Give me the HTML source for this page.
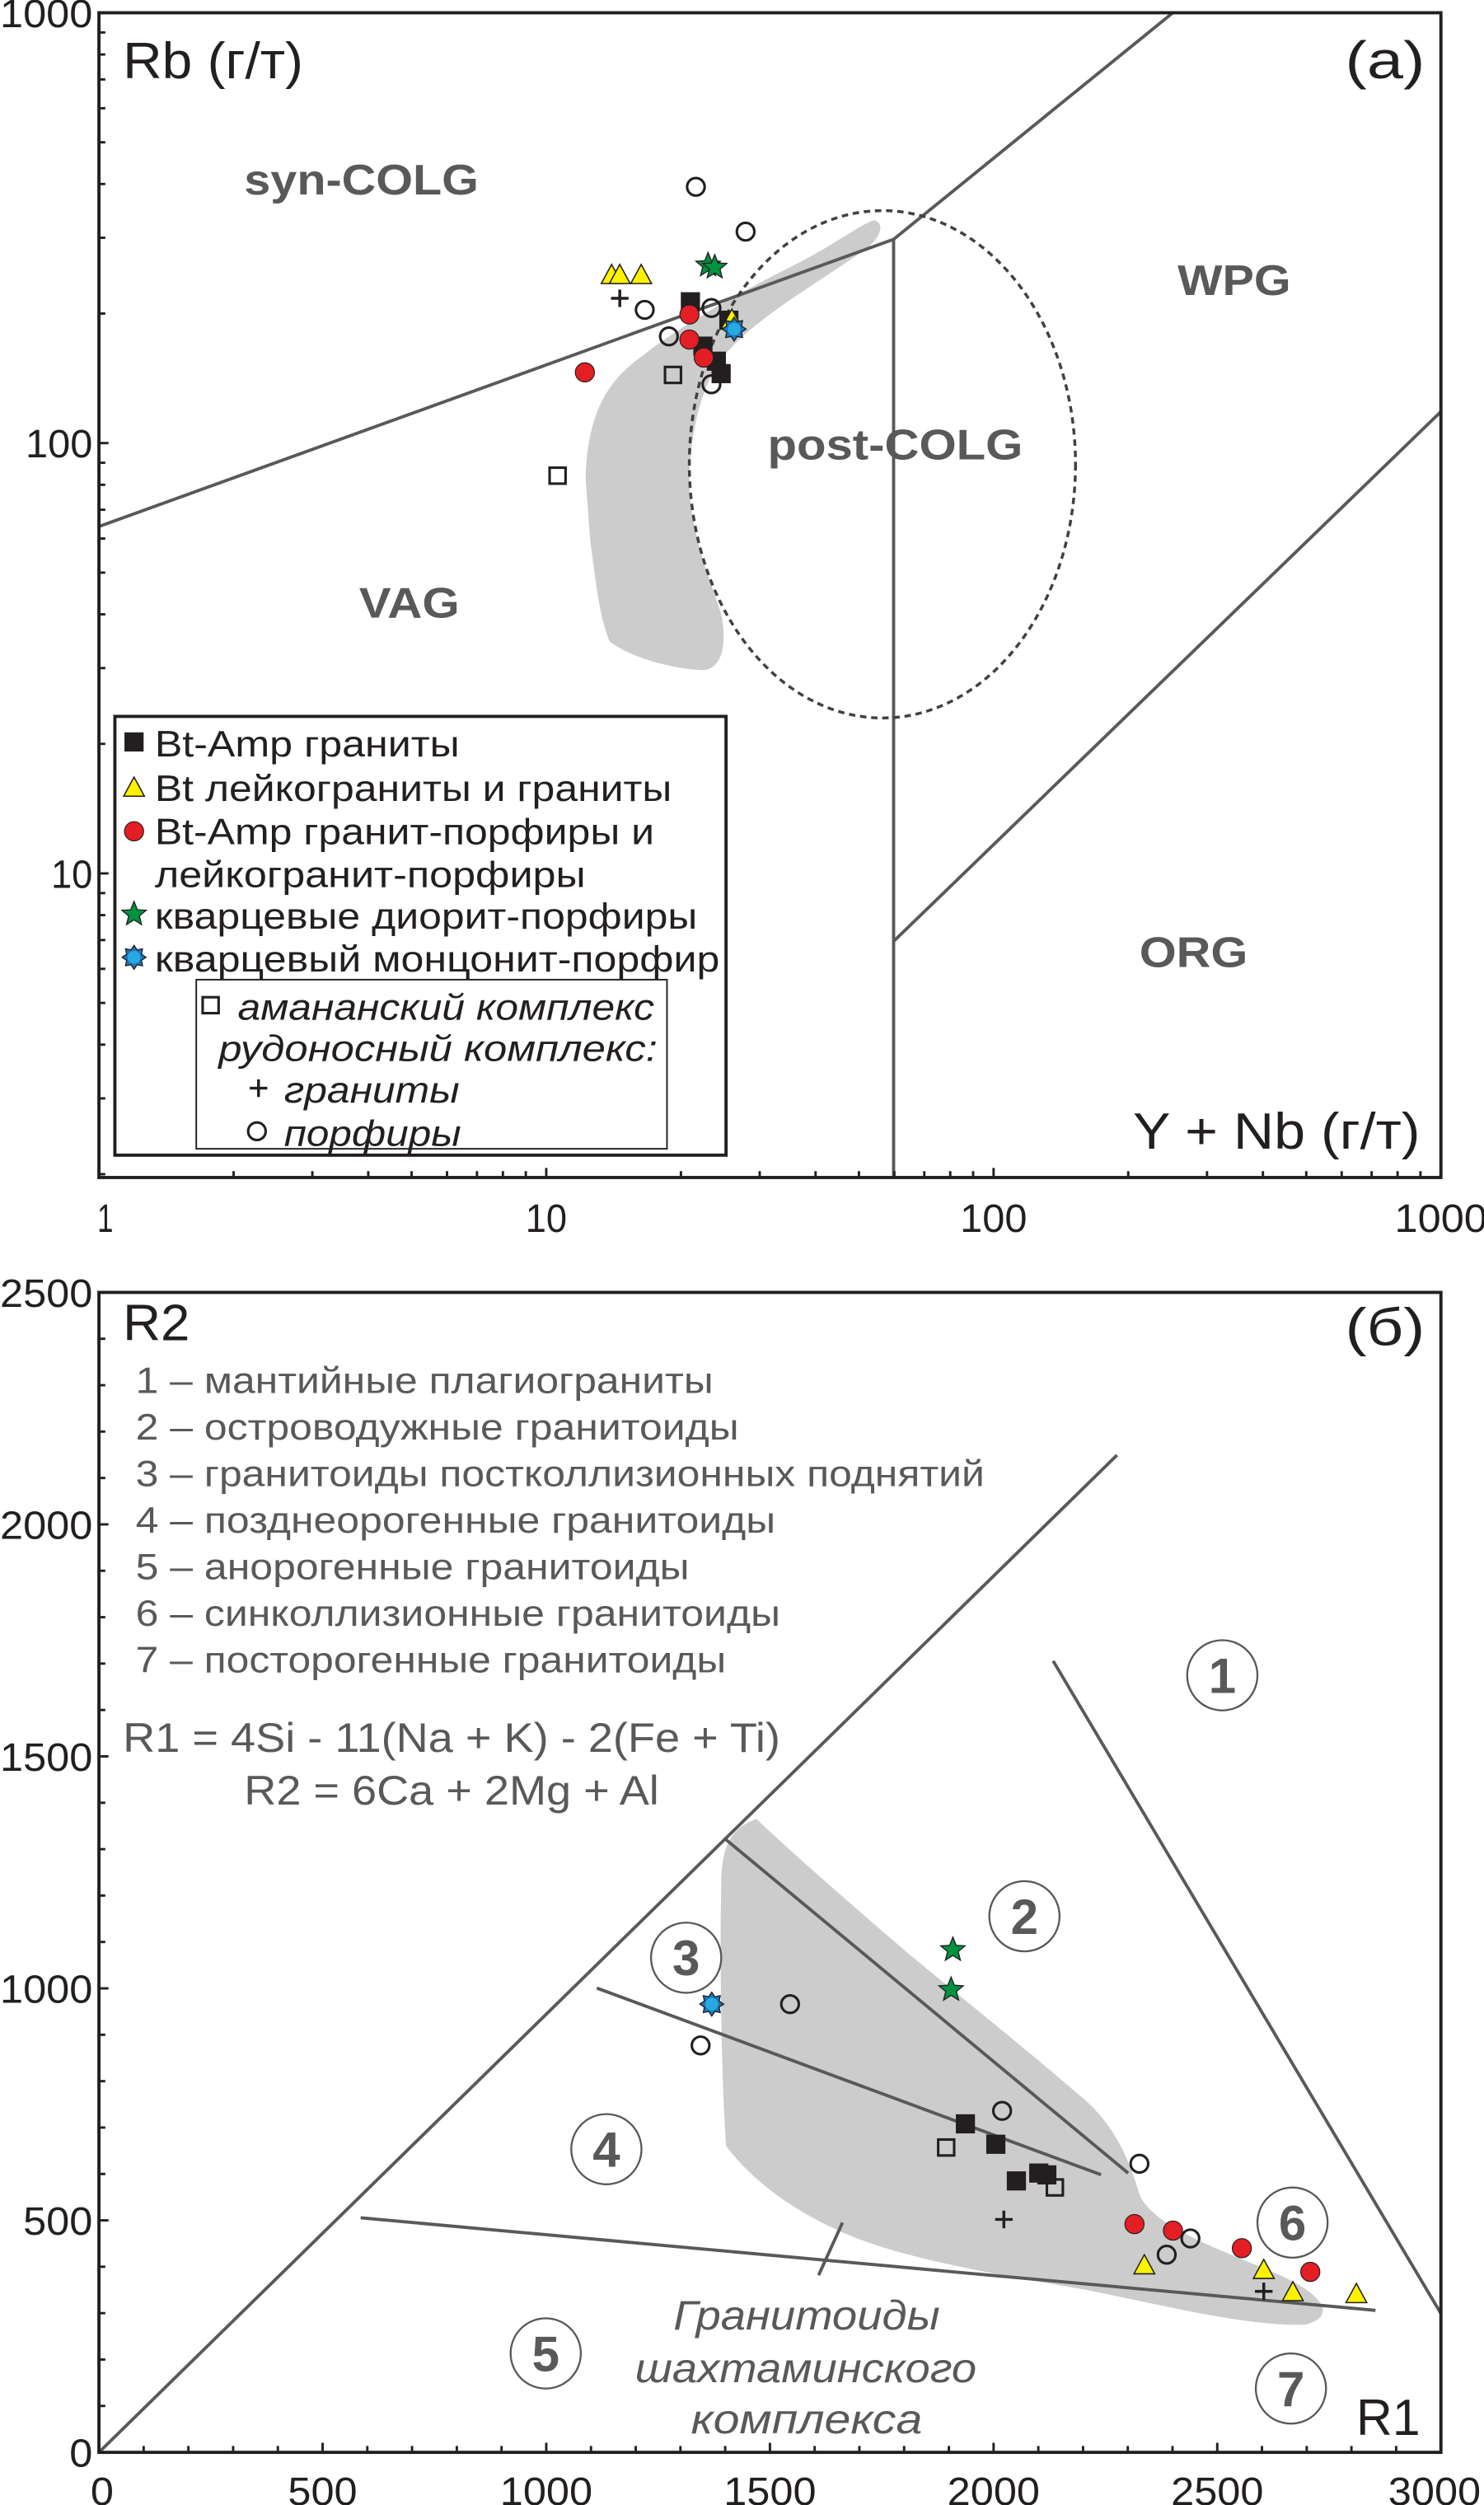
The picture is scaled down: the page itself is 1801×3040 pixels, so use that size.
<!DOCTYPE html>
<html><head><meta charset="utf-8">
<style>
html,body{margin:0;padding:0;background:#fff;}
svg{display:block;}
text{font-family:"Liberation Sans","DejaVu Sans",sans-serif;}
</style></head>
<body>
<svg id="root" width="1801" height="3040" viewBox="0 0 930 1570" preserveAspectRatio="none" xmlns="http://www.w3.org/2000/svg">
<g id="top"></g>
<g id="bot"></g>
</svg>
<script>
// ---------- Chart (a) data ----------
const aGranitesX = [21, 22.4, 24, 24.6, 25.6];
const aGranitesY = [213, 168, 155, 145, 193];
const aLeucoX = [14, 14.6, 16.3, 26];
const aLeucoY = [245, 245, 245, 193];
const aPorphX = [12.2, 20.9, 20.9, 22.5];
const aPorphY = [146, 199, 174, 158];
const aDioriteX = [23, 23.8];
const aDioriteY = [259, 256];
const aMonzX = [26.3];
const aMonzY = [184];
const aAmananX = [10.6, 19.2];
const aAmananY = [84, 144];
const aOreGranX = [14.6];
const aOreGranY = [217];
const aOrePorphX = [21.6, 27.9, 16.6, 23.4, 18.8, 23.4];
const aOrePorphY = [394, 310, 204, 206, 177, 137];
const aXTicks = [1, 10, 100, 1000];
const aYTicks = [10, 100, 1000];

// ---------- Chart (б) data ----------
const bGranitesX = [1937, 2005, 2051, 2101, 2119];
const bGranitesY = [708, 664, 585, 602, 598];
const bLeucoX = [2337, 2604, 2669, 2811];
const bLeucoY = [402, 392, 344, 340];
const bPorphX = [2315, 2401, 2555, 2708];
const bPorphY = [492, 478, 440, 389];
const bDioriteX = [1909, 1905];
const bDioriteY = [1083, 997];
const bMonzX = [1370];
const bMonzY = [966];
const bAmananX = [1894, 2137];
const bAmananY = [657, 571];
const bOreGranX = [2023, 2604];
const bOreGranY = [502, 347];
const bOrePorphX = [1345, 1545, 2019, 2326, 2387, 2440];
const bOrePorphY = [877, 966, 736, 622, 426, 461];
const bXTicks = [0, 500, 1000, 1500, 2000, 2500, 3000];
const bYTicks = [0, 500, 1000, 1500, 2000, 2500];

const NS = "http://www.w3.org/2000/svg";
function mk(parent, tag, attrs, txt){
  const e = document.createElementNS(NS, tag);
  for (const k in attrs) e.setAttribute(k, attrs[k]);
  if (txt !== undefined) e.textContent = txt;
  parent.appendChild(e);
  return e;
}
const AL=62, AR=903, AT=8, AB=738;
const ax = v => AL + Math.log10(v) * (AR-AL)/3;
const ay = v => AT + (3 - Math.log10(v)) * 269.7;
const BL=62, BR=903, BT=810, BB=1537;
const bx = v => BL + v * (BR-BL)/3000;
const by = v => BB - v * (BB-BT)/2500;

function starPts(cx,cy,ro,ri,n){
  let p=[];
  for(let i=0;i<2*n;i++){const r=i%2?ri:ro;const a=-Math.PI/2+i*Math.PI/n;p.push((cx+r*Math.cos(a)).toFixed(2)+","+(cy+r*Math.sin(a)).toFixed(2));}
  return p.join(" ");
}
function marker(g, type, x, y){
  let e;
  if(type==='fsq') e=mk(g,'rect',{x:x-6,y:y-6,width:12,height:12,fill:'#231f20'});
  else if(type==='osq') e=mk(g,'rect',{x:x-5,y:y-5,width:10,height:10,fill:'none',stroke:'#231f20','stroke-width':1.6});
  else if(type==='tri') e=mk(g,'polygon',{points:`${x},${y-7} ${x-6.5},${y+5} ${x+6.5},${y+5}`,fill:'#fff200',stroke:'#231f20','stroke-width':0.8});
  else if(type==='red') e=mk(g,'circle',{cx:x,cy:y,r:6,fill:'#e31e24',stroke:'#231f20','stroke-width':0.6});
  else if(type==='star') e=mk(g,'polygon',{points:starPts(x,y,8,3.5,5),fill:'#00923f',stroke:'#231f20','stroke-width':0.7});
  else if(type==='blue'){ e=mk(g,'polygon',{points:starPts(x,y,7.5,5,8),fill:'#1c75bc',stroke:'#231f20','stroke-width':0.7}); mk(g,'circle',{cx:x,cy:y,r:4,fill:'#27aae1'}); }
  else if(type==='ocirc') e=mk(g,'circle',{cx:x,cy:y,r:5.5,fill:'none',stroke:'#231f20','stroke-width':1.6});
  else if(type==='plus') e=mk(g,'path',{d:`M${x-5.5},${y}H${x+5.5}M${x},${y-5.5}V${y+5.5}`,stroke:'#231f20','stroke-width':1.8});
  return e;
}
function series(g, name, type, xs, ys, fx, fy){
  const sg = mk(g,'g',{});
  
  
  for(let i=0;i<xs.length;i++){
    const m = marker(sg, type, fx(xs[i]), fy(ys[i]));
    
    
  }
}
function txt(g, name, x, y, s, attrs, w){
  const a = Object.assign({x:x,y:y},attrs||{});
  if (w) { a.textLength = w; a.lengthAdjust = 'spacingAndGlyphs'; }
  const t = mk(g,'text',a, s);
  
  
  return t;
}

// ================= Chart (a) =================
const T = document.getElementById('top');
let gf = mk(T,'path',{d:'M367,300 C368,260 380,240 400,225 C425,205 460,185 500,165 C525,152 540,140 548,138 C555,140 552,150 540,158 C505,182 470,202 452,225 C438,245 432,275 432,305 C434,340 446,365 452,385 C456,405 452,420 440,420 C420,419 395,412 382,402 C375,385 373,360 370,340 Z',fill:'#cccccc'});


const lineA = {stroke:'#58595b','stroke-width':2,fill:'none'};
let l1 = mk(T,'polyline',Object.assign({points:`${AL},330 560,150 735,8`},lineA));
 
let l2 = mk(T,'line',Object.assign({x1:560,y1:150,x2:560,y2:AB},lineA));
 
let l3 = mk(T,'line',Object.assign({x1:560,y1:590,x2:903,y2:258},lineA));
 
let el = mk(T,'ellipse',{cx:553,cy:291,rx:121,ry:159,fill:'none',stroke:'#414042','stroke-width':1.8,'stroke-dasharray':'4,3'});
 
let fr = mk(T,'rect',{x:AL,y:AT,width:AR-AL,height:AB-AT,fill:'none',stroke:'#231f20','stroke-width':2});
 
const tg = mk(T,'g',{stroke:'#231f20','stroke-width':1.5});
for(let d=0; d<3; d++){ for(let k=1;k<10;k++){ const v=Math.pow(10,d)*k; const x=ax(v); const L=k==1?6:4; if(k>1||d>0) mk(tg,'line',{x1:x,y1:AB,x2:x,y2:AB-L}); } }
for(let d=0; d<3; d++){ for(let k=1;k<10;k++){ const v=Math.pow(10,d)*k; if(v<2) continue; const y=ay(v); const L=k==1?6:4; mk(tg,'line',{x1:AL,y1:y,x2:AL+L,y2:y}); } }
const tickW = {1:10, 10:26, 100:42, 1000:58};
aXTicks.forEach(v=>{ txt(T,'x-tick-label', v==1?ax(v)+4:ax(v), 772, String(v), {'font-size':25,'text-anchor':'middle',fill:'#231f20'}, tickW[v]); });
aYTicks.forEach(v=>{ txt(T,'y-tick-label', 58, ay(v)+9, String(v), {'font-size':25,'text-anchor':'end',fill:'#231f20'}, tickW[v]); });
txt(T,'y-axis-title',77,49,'Rb (г/т)',{'font-size':32,fill:'#231f20'},113);
txt(T,'panel-label-a',843,49,'(a)',{'font-size':33,fill:'#231f20'},50);
txt(T,'x-axis-title',710,720,'Y + Nb (г/т)',{'font-size':32,fill:'#231f20'},180);
const fl = {'font-size':27,'font-weight':'bold',fill:'#58595b'};
txt(T,'syn-colg-label',153,122,'syn-COLG',fl,147);
txt(T,'wpg-label',738,185,'WPG',fl,71);
txt(T,'post-colg-label',481,288,'post-COLG',fl,160);
txt(T,'vag-label',225,387,'VAG',fl,63);
txt(T,'org-label',714,606,'ORG',fl,68);

series(T,'oreporph-a','ocirc',aOrePorphX,aOrePorphY,ax,ay);
series(T,'amanan-a','osq',aAmananX,aAmananY,ax,ay);
series(T,'granites-a','fsq',aGranitesX,aGranitesY,ax,ay);
series(T,'porph-a','red',aPorphX,aPorphY,ax,ay);
series(T,'leuco-a','tri',aLeucoX,aLeucoY,ax,ay);
series(T,'diorite-a','star',aDioriteX,aDioriteY,ax,ay);
series(T,'monz-a','blue',aMonzX,aMonzY,ax,ay);
series(T,'oregran-a','plus',aOreGranX,aOreGranY,ax,ay);

const LG = mk(T,'g',{});
 
mk(LG,'rect',{x:72,y:449,width:383,height:275,fill:'#fff',stroke:'#231f20','stroke-width':2});
mk(LG,'rect',{x:123,y:614,width:295,height:106,fill:'none',stroke:'#231f20','stroke-width':1});
const lt = {'font-size':23,fill:'#231f20'};
const li = {'font-size':23,fill:'#231f20','font-style':'italic'};
marker(LG,'fsq',84,465); txt(LG,'legend-entry',97,474,'Bt-Amp граниты',lt,191);
marker(LG,'tri',84,494); txt(LG,'legend-entry',97,502,'Bt лейкограниты и граниты',lt,324);
marker(LG,'red',84,521); txt(LG,'legend-entry',97,529,'Bt-Amp гранит-порфиры и',lt,313);
txt(LG,'legend-entry',97,556,'лейкогранит-порфиры',lt,270);
marker(LG,'star',84,573); txt(LG,'legend-entry',97,582,'кварцевые диорит-порфиры',lt,340);
marker(LG,'blue',84,600); txt(LG,'legend-entry',97,609,'кварцевый монцонит-порфир',lt,354);
marker(LG,'osq',132,630); txt(LG,'legend-entry',149,639,'амананский комплекс',li,261);
txt(LG,'legend-entry',137,665,'рудоносный комплекс:',li,275);
marker(LG,'plus',162,682); txt(LG,'legend-entry',178,691,'граниты',li,110);
marker(LG,'ocirc',161,709); txt(LG,'legend-entry',178,718,'порфиры',li,111);

// ================= Chart (б) =================
const B = document.getElementById('bot');
let gf2 = mk(B,'path',{d:'M452,1180 C452,1155 460,1145 474,1140 C495,1160 535,1195 570,1225 C610,1258 650,1290 682,1318 C700,1335 708,1355 714,1375 C722,1395 760,1408 800,1425 C830,1438 838,1452 818,1457 C780,1458 730,1445 680,1435 C620,1425 565,1415 530,1400 C495,1385 470,1365 455,1345 C452,1300 451,1230 452,1180 Z',fill:'#cccccc'});
 
const lineB = {stroke:'#58595b','stroke-width':2,fill:'none'};
[[62,1537,700,912,'upper-boundary'],[660,1041,903,1450,'field-1-boundary'],[455,1153,707,1362,'field-2-boundary'],[374,1246,690,1363,'field-3-4-boundary'],[226,1390,862,1448,'field-5-boundary']].forEach(s=>{
  const l = mk(B,'line',Object.assign({x1:s[0],y1:s[1],x2:s[2],y2:s[3]},lineB));
   
});
let fr2 = mk(B,'rect',{x:BL,y:BT,width:BR-BL,height:BB-BT,fill:'none',stroke:'#231f20','stroke-width':2});
 
const tg2 = mk(B,'g',{stroke:'#231f20','stroke-width':1.5});
for(let v=100; v<3000; v+=100){ const L=v%500==0?6:4; mk(tg2,'line',{x1:bx(v),y1:BB,x2:bx(v),y2:BB-L}); }
for(let v=100; v<2500; v+=100){ const L=v%500==0?6:4; mk(tg2,'line',{x1:BL,y1:by(v),x2:BL+L,y2:by(v)}); }
const tW = v => String(v).length*14.5;
bXTicks.forEach(v=>{ txt(B,'x-tick-label', v==0?bx(v)+2:(v==3000?bx(v)-4:bx(v)), 1570, String(v), {'font-size':25,'text-anchor':'middle',fill:'#231f20'}, tW(v)); });
bYTicks.forEach(v=>{ txt(B,'y-tick-label', 58, by(v)+9, String(v), {'font-size':25,'text-anchor':'end',fill:'#231f20'}, tW(v)); });
txt(B,'y-axis-title',77,840,'R2',{'font-size':32,fill:'#231f20'},42);
txt(B,'panel-label-b',843,843,'(б)',{'font-size':33,fill:'#231f20'},50);
txt(B,'x-axis-title',850,1526,'R1',{'font-size':32,fill:'#231f20'},40);
const lst = ['1 – мантийные плагиограниты','2 – островодужные гранитоиды','3 – гранитоиды постколлизионных поднятий','4 – позднеорогенные гранитоиды','5 – анорогенные гранитоиды','6 – синколлизионные гранитоиды','7 – посторогенные гранитоиды'];
const lstW = [362,378,532,401,347,404,370];
lst.forEach((s,i)=>txt(B,'field-key-entry',85,873+i*29.2,s,{'font-size':23,fill:'#58595b'},lstW[i]));
txt(B,'formula-r1',77,1098,'R1 = 4Si - 11(Na + K) - 2(Fe + Ti)',{'font-size':26,fill:'#58595b'},412);
txt(B,'formula-r2',153,1131,'R2 = 6Ca + 2Mg + Al',{'font-size':26,fill:'#58595b'},260);
const circ = [[766,1050,'1'],[642,1201,'2'],[430,1227,'3'],[380,1347,'4'],[342,1475,'5'],[810,1393,'6'],[809,1497,'7']];
circ.forEach(c=>{
  const g = mk(B,'g',{});
   
  mk(g,'circle',{cx:c[0],cy:c[1],r:22,fill:'#fff',stroke:'#58595b','stroke-width':1.2});
  mk(g,'text',{x:c[0],y:c[1]+11,'font-size':31,'font-weight':'bold','text-anchor':'middle',fill:'#58595b'},c[2]);
});
let pl = mk(B,'line',{x1:513,y1:1426,x2:528,y2:1393,stroke:'#58595b','stroke-width':2});
 
const it = {'font-size':26,'font-style':'italic',fill:'#58595b'};
txt(B,'field-label',422,1460,'Гранитоиды',it,167);
txt(B,'field-label',398,1493,'шахтаминского',it,214);
txt(B,'field-label',433,1525,'комплекса',it,145);

series(B,'oreporph-b','ocirc',bOrePorphX,bOrePorphY,bx,by);
series(B,'amanan-b','osq',bAmananX,bAmananY,bx,by);
series(B,'granites-b','fsq',bGranitesX,bGranitesY,bx,by);
series(B,'porph-b','red',bPorphX,bPorphY,bx,by);
series(B,'leuco-b','tri',bLeucoX,bLeucoY,bx,by);
series(B,'diorite-b','star',bDioriteX,bDioriteY,bx,by);
series(B,'monz-b','blue',bMonzX,bMonzY,bx,by);
series(B,'oregran-b','plus',bOreGranX,bOreGranY,bx,by);
</script>
</body></html>
